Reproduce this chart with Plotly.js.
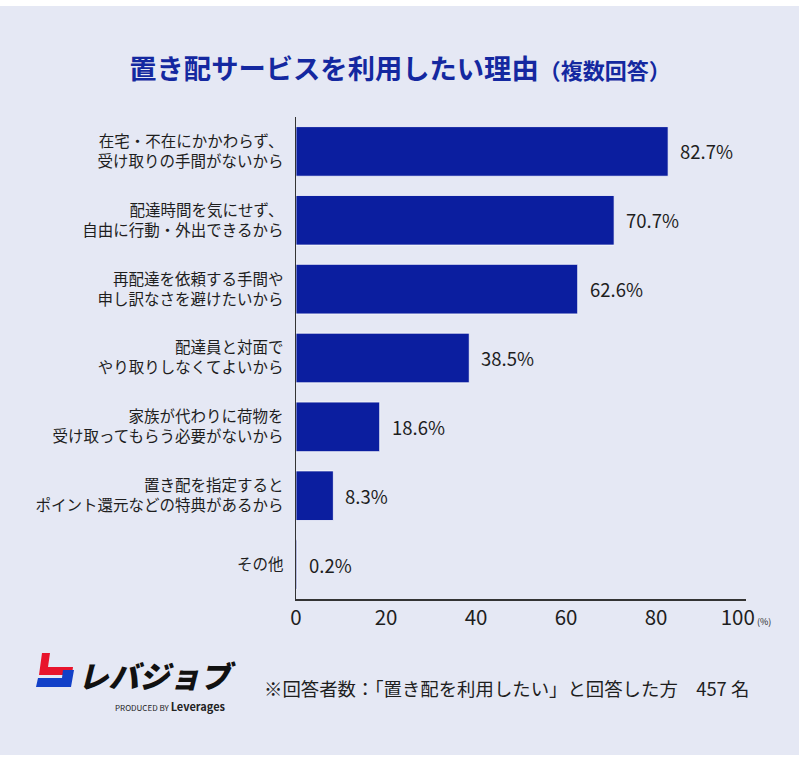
<!DOCTYPE html>
<html>
<head>
<meta charset="utf-8">
<script src="https://cdn.plot.ly/plotly-3.0.1.min.js"></script>
<style>html,body{margin:0;padding:0;background:#fff;}#chart{width:800px;height:761px;}</style>
</head>
<body>
<div id="chart"></div>
<script>
// ---- data ----
const categories = [
  "在宅・不在にかかわらず、<br>受け取りの手間がないから",
  "配達時間を気にせず、<br>自由に行動・外出できるから",
  "再配達を依頼する手間や<br>申し訳なさを避けたいから",
  "配達員と対面で<br>やり取りしなくてよいから",
  "家族が代わりに荷物を<br>受け取ってもらう必要がないから",
  "置き配を指定すると<br>ポイント還元などの特典があるから",
  "その他"
];
const values = [82.7, 70.7, 62.6, 38.5, 18.6, 8.3, 0.2];
const tickValues = [0, 20, 40, 60, 80, 100];
const tickLabels = ["0", "20", "40", "60", "80", "100"];
const titleMain = "置き配サービスを利用したい理由";
const titleSub = "（複数回答）";
const footnote = "※回答者数：「置き配を利用したい」と回答した方　457 名";
const unitLabel = "(%)";

// ---- layout helpers ----
const W = 800, H = 761;
const L = 296, R = 746, T = 117, B = 599;
const px = x => (x - L) / (R - L);
const py = y => (B - y) / (B - T);
const FONT = '"Noto Sans CJK JP", "Noto Sans", sans-serif';
const BG = '#e5e8f4';
const BAR = '#0b1e9f';
const TXT = '#1e1e1e';

const ticktext = tickLabels.map((t, i) => i === tickLabels.length - 1
  ? t + '<span style="font-size:9px"> ' + unitLabel + '</span>' : t);

const trace = {
  type: 'bar',
  orientation: 'h',
  x: values,
  y: categories,
  marker: { color: BAR, line: { color: 'rgba(255,255,255,0.75)', width: 1 } },
  hoverinfo: 'none'
};

const annotations = values.map((v, i) => ({
  x: v, y: categories[i], xref: 'x', yref: 'y',
  text: v.toFixed(1) + '%', showarrow: false,
  xanchor: 'left', yanchor: 'middle', xshift: 10,
  font: { family: FONT, size: 18.5, color: TXT }
}));

annotations.push({
  xref: 'paper', yref: 'paper', x: px(262), y: py(688),
  xanchor: 'left', yanchor: 'middle', showarrow: false,
  text: footnote, font: { family: FONT, size: 18.4, color: TXT }
});
annotations.push({
  xref: 'paper', yref: 'paper', x: px(76), y: py(675),
  xanchor: 'left', yanchor: 'middle', showarrow: false,
  text: 'レバジョブ',
  font: { family: FONT, size: 30.5, color: '#111', weight: 900, style: 'italic' }
});
annotations.push({
  xref: 'paper', yref: 'paper', x: px(228), y: py(706),
  xanchor: 'right', yanchor: 'middle', showarrow: false,
  text: '<span style="font-size:8px">PRODUCED BY </span><b>Leverages</b>',
  font: { family: FONT, size: 11, color: '#222' }
});

const shapes = [
  { type: 'rect', xref: 'paper', yref: 'paper', layer: 'below',
    x0: px(0), x1: px(799), y0: py(6), y1: py(755),
    fillcolor: BG, line: { width: 0 } },
  // logo: red part
  { type: 'path', xref: 'paper', yref: 'paper', layer: 'above',
    path: `M ${px(42)} ${py(653)} L ${px(50)} ${py(653)} L ${px(48)} ${py(667)} L ${px(73)} ${py(667)} L ${px(72)} ${py(675)} L ${px(39)} ${py(675)} Z`,
    fillcolor: '#e8142c', line: { width: 0 } },
  // logo: blue part
  { type: 'path', xref: 'paper', yref: 'paper', layer: 'above',
    path: `M ${px(38)} ${py(678)} L ${px(62)} ${py(678)} L ${px(63)} ${py(670)} L ${px(74)} ${py(670)} L ${px(71)} ${py(687)} L ${px(36)} ${py(687)} Z`,
    fillcolor: '#1240c8', line: { width: 0 } }
];

const layout = {
  width: W, height: H,
  margin: { l: L, r: W - R, t: T, b: H - B, pad: 0 },
  paper_bgcolor: '#ffffff',
  plot_bgcolor: 'rgba(0,0,0,0)',
  showlegend: false,
  bargap: 0.28,
  font: { family: FONT, color: TXT },
  title: {
    text: titleMain + '<span style="font-size:22px">' + titleSub + '</span>',
    xref: 'container', yref: 'container', x: 0.5, y: 1 - 69 / H,
    xanchor: 'center', yanchor: 'middle',
    font: { family: FONT, size: 27.3, color: '#1428a0', weight: 'bold' }
  },
  xaxis: {
    range: [0, 100], tickvals: tickValues, ticktext: ticktext,
    showgrid: false, zeroline: false, showline: true,
    linecolor: '#333', linewidth: 1.5, ticks: '',
    tickfont: { family: FONT, size: 20.5, color: TXT },
    fixedrange: true
  },
  yaxis: {
    type: 'category', categoryorder: 'array', categoryarray: categories,
    autorange: 'reversed',
    showgrid: false, zeroline: false, showline: true,
    linecolor: '#333', linewidth: 1.5, ticks: '',
    ticklabelstandoff: 8,
    tickfont: { family: FONT, size: 15.5, color: TXT },
    fixedrange: true
  },
  annotations: annotations,
  shapes: shapes
};

Plotly.newPlot('chart', [trace], layout, { staticPlot: true, displayModeBar: false });
</script>
</body>
</html>
